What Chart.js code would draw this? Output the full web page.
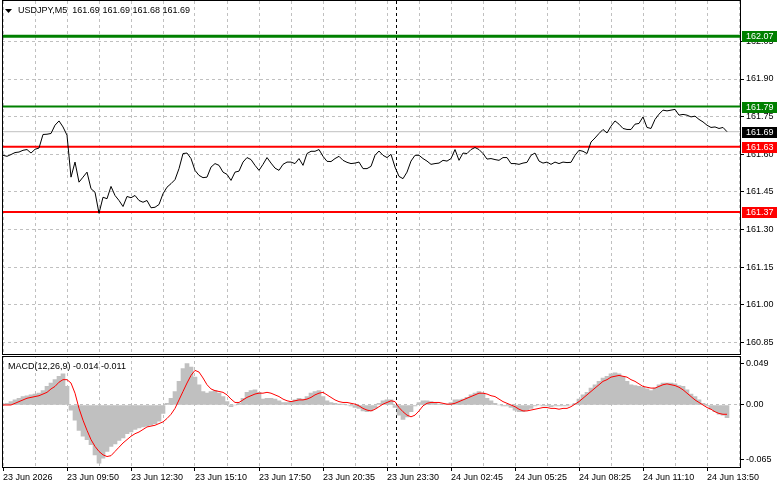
<!DOCTYPE html>
<html>
<head>
<meta charset="utf-8">
<title>USDJPY,M5</title>
<script src="https://cdn.jsdelivr.net/npm/chart.js@4.4.1/dist/chart.umd.min.js"></script>
<style>
  html, body { margin: 0; padding: 0; background: #fff; }
  #wrap { width: 781px; height: 489px; }
</style>
</head>
<body>
<div id="wrap"><canvas id="chart" width="781" height="489"></canvas></div>
<script>
// one sample every 2 bars (M5 bars -> 10 minutes)
const SAMPLE_STEP = 2;
const LABEL_EVERY = 32; // bars between time labels
const TOTAL_BARS = 369;

const timeLabels = ['23 Jun 2026', '23 Jun 09:50', '23 Jun 12:30', '23 Jun 15:10', '23 Jun 17:50', '23 Jun 20:35',
  '23 Jun 23:30', '24 Jun 02:45', '24 Jun 05:25', '24 Jun 08:25', '24 Jun 11:10', '24 Jun 13:50'];
const daySeparatorBar = 196.25; // 24 Jun 00:00

// close prices
const priceValues = [
  161.596, 161.592, 161.599, 161.607, 161.609, 161.616, 161.619, 161.605, 161.620, 161.625,
  161.679, 161.680, 161.683, 161.716, 161.733, 161.709, 161.676, 161.509, 161.569, 161.489,
  161.509, 161.529, 161.463, 161.449, 161.365, 161.429, 161.423, 161.472, 161.436, 161.416,
  161.392, 161.432, 161.427, 161.436, 161.416, 161.409, 161.416, 161.387, 161.389, 161.400,
  161.443, 161.469, 161.483, 161.499, 161.543, 161.603, 161.605, 161.583, 161.536, 161.516,
  161.507, 161.509, 161.549, 161.563, 161.556, 161.529, 161.520, 161.496, 161.529, 161.533,
  161.569, 161.587, 161.579, 161.556, 161.536,
  161.560, 161.587, 161.565, 161.545, 161.536, 161.560, 161.569, 161.569, 161.563, 161.583,
  161.556, 161.603, 161.612, 161.612, 161.619, 161.592, 161.572, 161.571, 161.583, 161.592,
  161.576, 161.568, 161.563, 161.565, 161.569, 161.543, 161.543, 161.552, 161.596, 161.613,
  161.596, 161.587, 161.600, 161.549, 161.512, 161.503, 161.529, 161.573, 161.596, 161.596,
  161.583, 161.573, 161.560, 161.563, 161.565, 161.576, 161.573, 161.583, 161.619, 161.576,
  161.605, 161.603, 161.619, 161.627, 161.619, 161.603, 161.581, 161.583, 161.579, 161.576,
  161.587, 161.587, 161.563, 161.563, 161.560, 161.565, 161.568,
  161.596, 161.605, 161.573, 161.565, 161.569, 161.560, 161.569, 161.563, 161.569, 161.567,
  161.568, 161.596, 161.616, 161.612, 161.603, 161.649, 161.665, 161.683, 161.699, 161.685,
  161.712, 161.733, 161.720, 161.703, 161.699, 161.699, 161.720, 161.723, 161.749, 161.707,
  161.703, 161.739, 161.760, 161.776, 161.773, 161.776, 161.779, 161.756, 161.759, 161.756,
  161.749, 161.752, 161.739, 161.729, 161.716, 161.707, 161.709, 161.703, 161.707, 161.690
];

// MACD(12,26,9) main (histogram) and signal
const macdHist = [
  0.001, 0.002, 0.004, 0.006, 0.008, 0.010, 0.011, 0.012, 0.013, 0.014,
  0.017, 0.022, 0.026, 0.030, 0.034, 0.037, 0.022, -0.006, -0.018, -0.030,
  -0.037, -0.041, -0.047, -0.059, -0.069, -0.063, -0.055, -0.049, -0.046, -0.042,
  -0.039, -0.034, -0.032, -0.029, -0.027, -0.026, -0.025, -0.024, -0.022, -0.019,
  -0.010, 0.002, 0.008, 0.016, 0.028, 0.043, 0.049, 0.045, 0.033, 0.024,
  0.016, 0.014, 0.016, 0.017, 0.014, 0.010, 0.004, -0.002, 0.000, 0.002,
  0.008, 0.015, 0.017, 0.018, 0.015,
  0.007, 0.008, 0.008, 0.007, 0.005, 0.003, 0.003, 0.004, 0.006, 0.008,
  0.007, 0.010, 0.014, 0.016, 0.017, 0.010, 0.005, 0.003, 0.002, 0.001,
  0.001, 0.000, -0.001, -0.003, -0.004, -0.007, -0.008, -0.007, -0.004, 0.002,
  0.005, 0.006, 0.006, -0.003, -0.012, -0.017, -0.014, -0.008, -0.001, 0.003,
  0.005, 0.005, 0.004, 0.002, 0.001, 0.001, 0.001, 0.003, 0.006, 0.006,
  0.007, 0.009, 0.012, 0.014, 0.016, 0.014, 0.008, 0.005,
  0.002, 0.000, -0.001, -0.001, -0.003, -0.006, -0.008, -0.008, -0.006, -0.004,
  -0.001, 0.000, -0.001, -0.001, -0.002, -0.001, -0.001, -0.001, -0.001, 0.000,
  0.002, 0.007, 0.012, 0.015, 0.020, 0.024, 0.028, 0.032, 0.034, 0.037,
  0.038, 0.037, 0.034, 0.028, 0.024, 0.023, 0.022, 0.021, 0.019, 0.017,
  0.020, 0.024, 0.026, 0.026, 0.026, 0.025, 0.023, 0.022, 0.018, 0.013,
  0.010, 0.006, 0.002, -0.001, -0.005, -0.008, -0.011, -0.012, -0.015
];
const macdSignal = [
  0.000, 0.000, 0.000, 0.002, 0.004, 0.006, 0.008, 0.009, 0.010, 0.011,
  0.013, 0.015, 0.019, 0.022, 0.027, 0.030, 0.030, 0.026, 0.014, -0.004,
  -0.018, -0.030, -0.041, -0.049, -0.055, -0.059, -0.061, -0.060, -0.055, -0.050,
  -0.045, -0.041, -0.037, -0.034, -0.032, -0.029, -0.026, -0.025, -0.024, -0.022,
  -0.020, -0.016, -0.011, -0.004, 0.006, 0.016, 0.026, 0.035, 0.041, 0.039,
  0.032, 0.024, 0.019, 0.017, 0.016, 0.015, 0.012, 0.007, 0.003, 0.003,
  0.006, 0.009, 0.011, 0.013, 0.014,
  0.014, 0.015, 0.014, 0.012, 0.010, 0.007, 0.005, 0.004, 0.005, 0.006,
  0.006, 0.007, 0.009, 0.012, 0.014, 0.015, 0.012, 0.009, 0.006, 0.004,
  0.003, 0.003, 0.002, 0.001, -0.001, -0.004, -0.006, -0.007, -0.005, -0.002,
  0.001, 0.003, 0.005, 0.004, -0.003, -0.008, -0.012, -0.014, -0.012, -0.007,
  -0.001, 0.002, 0.003, 0.003, 0.003, 0.002, 0.001, 0.001, 0.002, 0.004,
  0.006, 0.008, 0.010, 0.012, 0.014, 0.014, 0.013, 0.011,
  0.010, 0.007, 0.004, 0.002, 0.000, -0.002, -0.005, -0.007, -0.007, -0.006,
  -0.005, -0.004, -0.003, -0.003, -0.004, -0.004, -0.005, -0.004, -0.004, -0.002,
  0.001, 0.004, 0.008, 0.012, 0.016, 0.020, 0.024, 0.028, 0.030, 0.033,
  0.034, 0.035, 0.034, 0.033, 0.030, 0.028, 0.025, 0.022, 0.021, 0.020,
  0.020, 0.022, 0.024, 0.025, 0.024, 0.023, 0.021, 0.018, 0.014, 0.010,
  0.006, 0.003, 0.000, -0.003, -0.005, -0.008, -0.010, -0.011, -0.011
];

// horizontal levels
const levelValues = [162.07, 161.79, 161.63, 161.37];
const levelColors = ['#008000', '#008000', '#ff0000', '#ff0000'];
const levelWidths = [3, 2, 2, 2];
const lastPrice = 161.69;

const priceTicks = [160.85, 161.00, 161.15, 161.30, 161.45, 161.60, 161.75, 161.90, 162.05];
const macdTicks = [-0.065, 0, 0.049];
const macdTickLabels = ['-0.065', '0.00', '0.049'];

const titleText = 'USDJPY,M5  161.69 161.69 161.68 161.69';
const macdText = 'MACD(12,26,9) -0.014 -0.011';

const FONT = "'Liberation Sans', Arial, sans-serif";
Chart.defaults.font.family = FONT;
Chart.defaults.font.size = 9;
Chart.defaults.color = '#000';

const xMin = -0.5, xMax = TOTAL_BARS - 0.5;
const toPoints = arr => arr.map((v, k) => ({ x: k * SAMPLE_STEP, y: v }));
const flat = v => [{ x: xMin, y: v }, { x: xMax, y: v }];

const gridBars = [];
timeLabels.forEach((_, k) => { gridBars.push(k * LABEL_EVERY, k * LABEL_EVERY + LABEL_EVERY / 2); });

const levelSets = levelValues.map((v, i) => ({
  type: 'line', yAxisID: 'y', data: flat(v), borderColor: levelColors[i],
  borderWidth: levelWidths[i], pointRadius: 0, order: 2
}));

// frame, separators, labels drawn the MT4 way
const mt4Frame = {
  id: 'mt4Frame',
  beforeDatasetsDraw(chart) {
    const { ctx, chartArea, scales } = chart;
    const x = Math.round(scales.x.getPixelForValue(daySeparatorBar)) + 0.5;
    ctx.save();
    ctx.strokeStyle = '#000';
    ctx.lineWidth = 1;
    ctx.setLineDash([3, 3]);
    ctx.beginPath();
    ctx.moveTo(x, chartArea.top);
    ctx.lineTo(x, chartArea.bottom);
    ctx.stroke();
    ctx.restore();
  },
  afterDraw(chart) {
    const { ctx, chartArea, scales } = chart;
    const sb = Math.floor(scales.y.bottom);
    const w = chartArea.right - chartArea.left;
    ctx.save();
    // gap between panes
    ctx.fillStyle = '#fff';
    ctx.fillRect(chartArea.left + 1, sb, w - 1, 1);
    ctx.strokeStyle = '#000';
    ctx.lineWidth = 1;
    ctx.setLineDash([]);
    ctx.strokeRect(chartArea.left + 0.5, chartArea.top - 0.5, w, sb - chartArea.top);
    ctx.strokeRect(chartArea.left + 0.5, sb + 1.5, w, chartArea.bottom - sb - 1);

    // price tags on the axis
    ctx.font = '9px ' + FONT;
    ctx.textBaseline = 'middle';
    ctx.textAlign = 'left';
    const tags = levelValues.map((v, i) => ({ v, c: levelColors[i] }));
    tags.push({ v: lastPrice, c: '#000' });
    tags.forEach(t => {
      const y = Math.round(scales.y.getPixelForValue(t.v));
      ctx.fillStyle = t.c;
      ctx.fillRect(chartArea.right + 2, y - 5, 35, 11);
      ctx.fillStyle = '#fff';
      ctx.fillText(t.v.toFixed(2), chartArea.right + 6, y + 0.5);
    });

    // title and indicator label
    ctx.fillStyle = '#000';
    ctx.beginPath();
    ctx.moveTo(5, 9);
    ctx.lineTo(12, 9);
    ctx.lineTo(8.5, 13);
    ctx.closePath();
    ctx.fill();
    ctx.fillText(titleText, 18, 11);
    ctx.fillText(macdText, 8, 366.5);
    ctx.restore();
  }
};

const dashedGrid = {
  color: '#c0c0c0', borderDash: [3, 3], tickColor: '#000', tickLength: 4, tickBorderDash: [], offset: false
};

new Chart(document.getElementById('chart'), {
  type: 'line',
  data: {
    datasets: [
      { type: 'line', yAxisID: 'y', data: toPoints(priceValues), borderColor: '#000', borderWidth: 1, pointRadius: 0, order: 0 },
      ...levelSets,
      { type: 'line', yAxisID: 'y', data: flat(lastPrice), borderColor: '#c0c0c0', borderWidth: 1, pointRadius: 0, order: 3 },
      { type: 'line', yAxisID: 'y2', data: toPoints(macdSignal), borderColor: '#ff0000', borderWidth: 1, pointRadius: 0, order: 0 },
      { type: 'bar', yAxisID: 'y2', data: toPoints(macdHist), backgroundColor: '#c0c0c0', borderWidth: 0,
        barPercentage: 1, categoryPercentage: 1, order: 5 }
    ]
  },
  options: {
    responsive: false,
    animation: false,
    devicePixelRatio: 1,
    layout: { autoPadding: false, padding: { left: 2, top: 1, right: 0, bottom: 0 } },
    plugins: { legend: { display: false }, tooltip: { enabled: false } },
    elements: { line: { tension: 0 }, point: { radius: 0 } },
    scales: {
      x: {
        type: 'linear', min: xMin, max: xMax, offset: false,
        afterBuildTicks: s => { s.ticks = gridBars.map(v => ({ value: v })); },
        afterFit: s => { s.height = 22; s.paddingLeft = 0; s.paddingRight = 0; },
        grid: Object.assign({}, dashedGrid, {
          tickColor: c => (c.tick && c.tick.value % LABEL_EVERY === 0) ? '#000' : 'rgba(0,0,0,0)'
        }),
        border: { display: false, dash: [3, 3] },
        ticks: {
          autoSkip: false, maxRotation: 0, minRotation: 0, align: 'start', padding: 1,
          callback: v => (v % LABEL_EVERY === 0) ? timeLabels[v / LABEL_EVERY] : ''
        }
      },
      y: {
        type: 'linear', position: 'right', stack: 'panes', stackWeight: 354.5,
        min: 160.7984, max: 162.2108,
        afterBuildTicks: s => { s.ticks = priceTicks.map(v => ({ value: v })); },
        afterFit: s => { s.width = 41; s.paddingTop = 0; s.paddingBottom = 0; },
        grid: dashedGrid,
        border: { display: false, dash: [3, 3] },
        ticks: { autoSkip: false, padding: 2, callback: v => v.toFixed(2) }
      },
      y2: {
        type: 'linear', position: 'right', stack: 'panes', stackWeight: 111.5,
        min: -0.0734, max: 0.0586,
        afterBuildTicks: s => { s.ticks = macdTicks.map(v => ({ value: v })); },
        afterFit: s => { s.width = 41; s.paddingTop = 0; s.paddingBottom = 0; },
        grid: Object.assign({}, dashedGrid, {
          color: c => (c.tick && c.tick.value === 0) ? '#c0c0c0' : 'rgba(0,0,0,0)'
        }),
        border: { display: false, dash: [3, 3] },
        ticks: { autoSkip: false, padding: 2, callback: (v, i) => macdTickLabels[i] }
      }
    }
  },
  plugins: [mt4Frame]
});
</script>
</body>
</html>
